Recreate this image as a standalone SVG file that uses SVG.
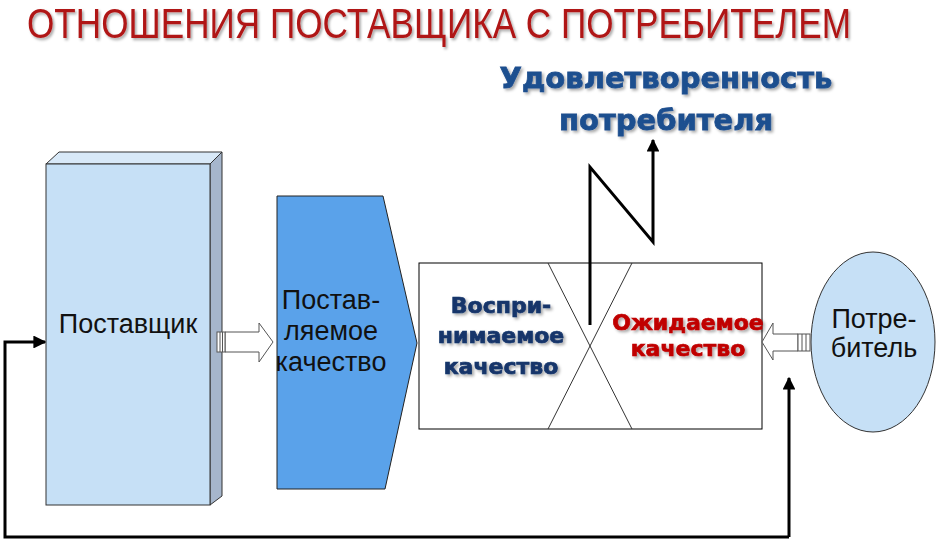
<svg xmlns="http://www.w3.org/2000/svg" width="937" height="545" viewBox="0 0 937 545">
<defs>
<filter id="sh" x="-10%" y="-40%" width="120%" height="180%"><feDropShadow dx="2" dy="2" stdDeviation="1.5" flood-color="#000" flood-opacity="0.35"/></filter>
<marker id="ah" viewBox="0 0 10 10" refX="9" refY="5" markerWidth="4.3" markerHeight="4.3" orient="auto"><path d="M0,0 L10,5 L0,10 z" fill="#000"/></marker>
</defs>
<style>
.t{font-family:"Liberation Sans",Arial,sans-serif}
.n{font-size:27px;fill:#111;text-anchor:middle}
.b{font-family:"DejaVu Sans",Verdana,sans-serif;font-weight:bold;text-anchor:middle}
.ln{fill:none;stroke:#000;stroke-width:3}
.ba{fill:#fff;stroke:#555;stroke-width:1}
</style>
<rect width="937" height="545" fill="#fff"/>
<g transform="translate(27,38) scale(0.837,1)" filter="url(#sh)">
<text class="t" x="0" y="0" font-size="42" fill="#b01818">ОТНОШЕНИЯ ПОСТАВЩИКА С ПОТРЕБИТЕЛЕМ</text>
</g>
<g id="supplier">
<path d="M46,164 L59,152 L222,152 L210,164 Z" fill="#d8e9f8" stroke="#333" stroke-width="1"/>
<path d="M210,164 L222,152 L222,496 L210,505 Z" fill="#a6b6cc" stroke="#333" stroke-width="1"/>
<rect x="46" y="164" width="164" height="341" fill="#c6e0f6" stroke="#333" stroke-width="1"/>
<text class="t n" x="128" y="333">Поставщик</text>
</g>
<g id="delivered">
<path d="M277,196 L383,196 L417,343 L385,489 L277,489 Z" fill="#5aa2ea" stroke="#222" stroke-width="1"/>
<text class="t n" x="331" y="309" font-size="26.5">Постав-</text>
<text class="t n" x="331" y="340" font-size="26.5">ляемое</text>
<text class="t n" x="331" y="371" font-size="26.5">качество</text>
</g>
<g id="quality">
<rect x="419" y="263" width="343" height="166" fill="#fff" stroke="#000" stroke-width="1"/>
<line x1="548" y1="263" x2="632" y2="429" stroke="#333" stroke-width="1"/>
<line x1="632" y1="263" x2="548" y2="429" stroke="#333" stroke-width="1"/>
<g class="b" font-size="22" fill="#15356a" stroke="#15356a" stroke-width="0.7" filter="url(#sh)">
<text x="501" y="313">Воспри-</text>
<text x="501" y="343">нимаемое</text>
<text x="501" y="374">качество</text>
</g>
<g class="b" font-size="22" fill="#c00000" stroke="#c00000" stroke-width="0.7" filter="url(#sh)">
<text x="688" y="330">Ожидаемое</text>
<text x="688" y="356">качество</text>
</g>
</g>
<g id="consumer">
<ellipse cx="873" cy="342" rx="62" ry="90" fill="#c6e0f6" stroke="#333" stroke-width="1"/>
<text class="t n" x="874" y="328">Потре-</text>
<text class="t n" x="874" y="357">битель</text>
</g>
<g id="satisfaction" class="b" font-size="29" fill="#1f4f8f" stroke="#1f4f8f" stroke-width="0.8" filter="url(#sh)">
<text x="666" y="88">Удовлетворенность</text>
<text x="666" y="130">потребителя</text>
</g>
<g id="connectors">
<g id="a1">
<path class="ba" d="M225,332 L259,332 L259,323 L273,342 L259,362 L259,352 L225,352 Z"/>
<rect x="217" y="332" width="8" height="20" fill="#fff" stroke="#555" stroke-width="1"/>
<line x1="220" y1="332" x2="220" y2="352" stroke="#555"/>
<line x1="222.5" y1="332" x2="222.5" y2="352" stroke="#555"/>
</g>
<g id="a2">
<path class="ba" d="M798,334 L773,334 L773,323 L762,342 L773,360 L773,351 L798,351 Z"/>
<rect x="798" y="334" width="12" height="17" fill="#fff" stroke="#555" stroke-width="1"/>
<line x1="802" y1="334" x2="802" y2="351" stroke="#555"/>
<line x1="806" y1="334" x2="806" y2="351" stroke="#555"/>
</g>
<polyline class="ln" points="590,325 590,167 653,242 653,140" marker-end="url(#ah)"/>
<polyline class="ln" points="789,537 5,537 5,342 45,342" marker-end="url(#ah)"/>
<polyline class="ln" points="789,537 789,378" marker-end="url(#ah)"/>
</g>
</svg>
